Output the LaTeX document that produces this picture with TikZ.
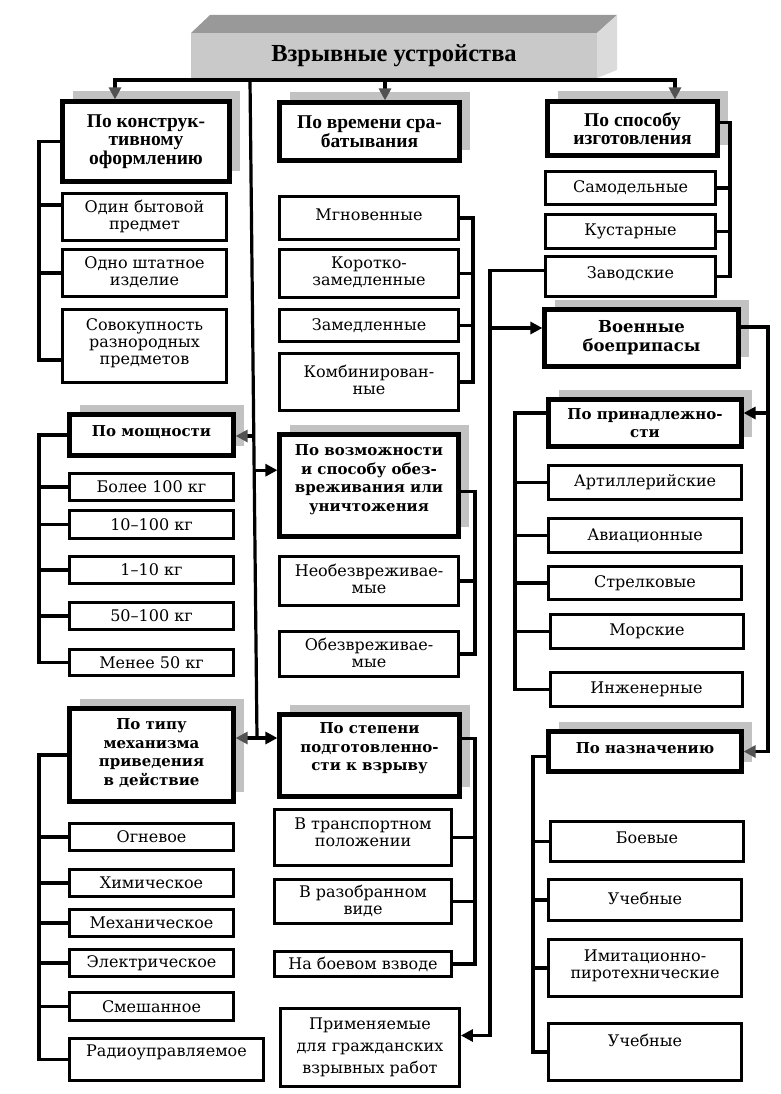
\documentclass[tikz,border=0pt]{standalone}
\usepackage{fontspec}
\setmainfont{DejaVu Serif}
\newfontfamily\condfont{Liberation Serif}
\usetikzlibrary{arrows.meta,shadows,calc}

\definecolor{shade}{gray}{0.76}
\definecolor{topface}{gray}{0.60}
\definecolor{frontface}{gray}{0.79}
\definecolor{sideface}{gray}{0.86}
\definecolor{tipgray}{gray}{0.32}

\tikzset{
  box/.style={draw=black, fill=white, rectangle, inner sep=0pt},
  ibox/.style={box, line width=2.8pt},
  hbox/.style={box, line width=4.2pt, drop shadow={shadow xshift=10pt, shadow yshift=10pt, fill=shade, opacity=1}},
  wbox/.style={hbox},
  vbox/.style={hbox},
  ibox text/.style={align=center, inner sep=0pt, font=\fontsize{16}{17}\selectfont},
  hbox text/.style={align=center, inner sep=0pt, font=\condfont\bfseries\fontsize{19.5}{18.5}\selectfont},
  wbox text/.style={align=center, inner sep=0pt, font=\bfseries\fontsize{15}{18.5}\selectfont},
  vbox text/.style={align=center, inner sep=0pt, font=\bfseries\fontsize{16.5}{19}\selectfont},
  conn/.style={line width=3.2pt},
  arr/.style={conn, -{Triangle[length=12pt,width=12pt]}},
  garr/.style={conn, -{Triangle[length=12pt,width=12pt,color=tipgray]}},
}

% style, name, x1, y1, x2, y2, text dy, text
\newcommand\bx[8]{%
  \node[#1, minimum width={#5-#3-3}, minimum height={#6-#4-3}] (#2) at ({(#3+#5)/2},{(#4+#6)/2}) {};
  \node[#1 text] (#2-t) at ({(#3+#5)/2},{(#4+#6)/2+#7}) {#8};}

\begin{document}
\begin{tikzpicture}[x=1pt,y=-1pt]
\useasboundingbox (0,0) rectangle (780,1094);

% title block
\fill[topface] (191,33) -- (210,15) -- (617,15) -- (597,33) -- cycle;
\fill[sideface] (597,33) -- (617,15) -- (617,70) -- (597,78) -- cycle;
\node[fill=frontface, inner sep=0pt, minimum width=406, minimum height=45,
      font=\condfont\bfseries\fontsize{24.5}{24.5}\selectfont] (title) at (394,55.5) {Взрывные устройства};

% headings
\bx{hbox}{konstr}{61}{100}{231}{183}{0}{По конструк-\\тивному\\оформлению}
\bx{hbox}{vremya}{278}{101}{461}{162}{0}{По времени сра-\\батывания}
\bx{hbox}{sposob}{546}{100}{719}{157}{0}{По способу\\изготовления}
\bx{wbox}{moshch}{68}{413}{235}{457}{-3}{По мощности}
\bx{wbox}{tipa}{68}{707}{235}{803}{-2}{По типу\\механизма\\приведения\\в действие}
\bx{wbox}{vozm}{278}{433}{460}{538}{-6}{По возможности\\и способу обез-\\вреживания или\\уничтожения}
\bx{wbox}{stepen}{278}{713}{461}{798}{-7}{По степени\\подготовленно-\\сти к взрыву}
\bx{vbox}{voen}{543}{308}{740}{368}{0}{Военные\\боеприпасы}
\bx{wbox}{prinadl}{547}{398}{743}{448}{0}{По принадлежно-\\сти}
\bx{wbox}{naznach}{547}{730}{743}{773}{-3}{По назначению}

% items, left column
\bx{ibox}{odin}{61}{192}{228}{242}{-1}{Один бытовой\\предмет}
\bx{ibox}{odno}{61}{248}{228}{298}{-1}{Одно штатное\\изделие}
\bx{ibox}{sov}{61}{308}{228}{384}{-3}{Совокупность\\разнородных\\предметов}
\bx{ibox}{bolee}{68}{472}{235}{502}{0}{Более 100 кг}
\bx{ibox}{mA}{68}{509}{235}{540}{0}{10–100 кг}
\bx{ibox}{mB}{68}{555}{235}{585}{0}{1–10 кг}
\bx{ibox}{mC}{68}{601}{235}{631}{0}{50–100 кг}
\bx{ibox}{menee}{68}{648}{235}{677}{0}{Менее 50 кг}
\bx{ibox}{ogn}{68}{822}{235}{852}{0}{Огневое}
\bx{ibox}{khim}{68}{868}{235}{898}{0}{Химическое}
\bx{ibox}{mekh}{68}{908}{235}{938}{0}{Механическое}
\bx{ibox}{elek}{68}{948}{235}{978}{0}{Электрическое}
\bx{ibox}{smesh}{68}{991}{235}{1022}{0}{Смешанное}
\bx{ibox}{radio}{68}{1037}{265}{1082}{-7}{Радиоуправляемое}

% items, middle column
\bx{ibox}{mgn}{278}{195}{460}{241}{-3}{Мгновенные}
\bx{ibox}{korot}{278}{248}{460}{299}{-1}{Коротко-\\замедленные}
\bx{ibox}{zamed}{278}{308}{460}{343}{0}{Замедленные}
\bx{ibox}{komb}{278}{352}{460}{412}{-2}{Комбинирован-\\ные}
\bx{ibox}{neobez}{278}{555}{460}{607}{-2}{Необезвреживае-\\мые}
\bx{ibox}{obez}{278}{630}{460}{678}{-1}{Обезвреживае-\\мые}
\bx{ibox}{transp}{273}{808}{453}{867}{-5}{В транспортном\\положении}
\bx{ibox}{razob}{273}{878}{453}{925}{-1}{В разобранном\\виде}
\bx{ibox}{boev}{273}{950}{453}{978}{0}{На боевом взводе}
\node[ibox, minimum width=179, minimum height=78] (prim) at (370,1047.5) {};
\node[ibox text, font=\fontsize{16}{22}\selectfont] (prim-t) at (370,1047) {Применяемые\\для гражданских\\взрывных работ};

% items, right column
\bx{ibox}{samod}{544}{170}{717}{206}{0}{Самодельные}
\bx{ibox}{kust}{544}{213}{717}{250}{0}{Кустарные}
\bx{ibox}{zavod}{544}{255}{717}{298}{-3}{Заводские}
\bx{ibox}{artil}{547}{464}{743}{501}{0}{Артиллерийские}
\bx{ibox}{avia}{547}{517}{743}{554}{0}{Авиационные}
\bx{ibox}{strel}{547}{565}{743}{601}{0}{Стрелковые}
\bx{ibox}{morsk}{549}{613}{745}{650}{0}{Морские}
\bx{ibox}{inzh}{549}{671}{744}{708}{0}{Инженерные}
\bx{ibox}{boevye}{549}{820}{745}{863}{-4}{Боевые}
\bx{ibox}{ucheb}{547}{878}{743}{922}{-2}{Учебные}
\bx{ibox}{imit}{547}{938}{743}{998}{-2}{Имитационно-\\пиротехнические}
\bx{ibox}{uchebB}{547}{1022}{743}{1082}{-12}{Учебные}

% ---- connectors ----
% top distribution
\coordinate (hL) at (115,80);
\coordinate (hM) at (385,80);
\coordinate (hR) at (675,80);
\draw[garr] (hM) -- (hL) -- (hL |- konstr.north);
\draw[garr] (hM) -- (hR) -- (hR |- sposob.north);
\draw[garr] (hM) -- (hM |- vremya.north);

% trunk
\coordinate (tT) at (250,80);
\coordinate (tB) at (257,738);
\draw[conn] (tT) -- (tB);
\coordinate (tM) at ($(tT)!0.541!(tB)$);
\coordinate (tV) at ($(tT)!0.593!(tB)$);
\draw[garr] (tM) -- (tM -| moshch.east);
\draw[arr] (tV) -- (tV -| vozm.west);
\draw[conn, {Triangle[length=12pt,width=12pt,color=tipgray]}-{Triangle[length=12pt,width=12pt]}]
  (tB -| tipa.east) -- (tB -| stepen.west);

% left brackets
\coordinate (kx) at (39,0);
\coordinate (k1) at ($(odin.west)+(0,-12)$);
\coordinate (k3) at ($(sov.west)+(0,14)$);
\draw[conn] (konstr.west) -| (kx |- k3) -- (k3);
\draw[conn] (k1) -- (k1 -| kx);
\draw[conn] (odno.west) -- (odno.west -| kx);

\draw[conn] (moshch.west) -| (kx |- menee.west) -- (menee.west);
\foreach \n in {bolee,mA,mB,mC} \draw[conn] (\n.west) -- (\n.west -| kx);

\draw[conn] (tipa.west) -| (kx |- radio.west) -- (radio.west);
\foreach \n in {ogn,khim,mekh,elek,smesh} \draw[conn] (\n.west) -- (\n.west -| kx);

% middle brackets
\coordinate (vx) at (473,0);
\draw[conn] (mgn.east) -| (vx |- komb.east) -- (komb.east);
\foreach \n in {korot,zamed} \draw[conn] (\n.east) -- (\n.east -| vx);

\coordinate (wx) at (475,0);
\coordinate (vz) at ($(vozm.east)+(0,6)$);
\draw[conn] (vz) -| (wx |- obez.east) -- (obez.east);
\draw[conn] (neobez.east) -- (neobez.east -| wx);

\coordinate (s0) at ($(stepen.east)+(0,-17)$);
\draw[conn] (s0) -| (wx |- boev.east) -- (boev.east);
\foreach \n in {transp,razob} \draw[conn] (\n.east) -- (\n.east -| wx);

% right side
\coordinate (px) at (730,0);
\coordinate (sp) at ($(sposob.east)+(0,-6)$);
\draw[conn] (sp) -| (px |- zavod.east) -- (zavod.east);
\foreach \n in {samod,kust} \draw[conn] (\n.east) -- (\n.east -| px);

\coordinate (zx) at (490,0);
\coordinate (zw) at ($(zavod.west)+(0,-6)$);
\coordinate (pA) at ($(prim.east)+(0,-12)$);
\draw[arr] (zw) -| (zx |- pA) -- (pA);
\coordinate (vA) at ($(voen.west)+(0,-10)$);
\draw[arr] (vA -| zx) -- (vA);

\coordinate (rx) at (768,0);
\coordinate (vE) at ($(voen.east)+(0,-11)$);
\draw[garr] (vE) -| (rx |- naznach.east) -- (naznach.east);
\coordinate (pE) at ($(prinadl.east)+(0,-10)$);
\draw[arr] (pE -| rx) -- (pE);

\coordinate (bx) at (515,0);
\coordinate (pW) at ($(prinadl.west)+(0,-10)$);
\draw[conn] (pW) -| (bx |- inzh.west) -- (inzh.west);
\foreach \n in {artil,avia,strel,morsk} \draw[conn] (\n.west) -- (\n.west -| bx);

\coordinate (nx) at (533,0);
\coordinate (nW) at ($(naznach.west)+(0,5)$);
\draw[conn] (nW) -| (nx |- uchebB.west) -- (uchebB.west);
\foreach \n in {boevye,ucheb,imit} \draw[conn] (\n.west) -- (\n.west -| nx);
\end{tikzpicture}
\end{document}
